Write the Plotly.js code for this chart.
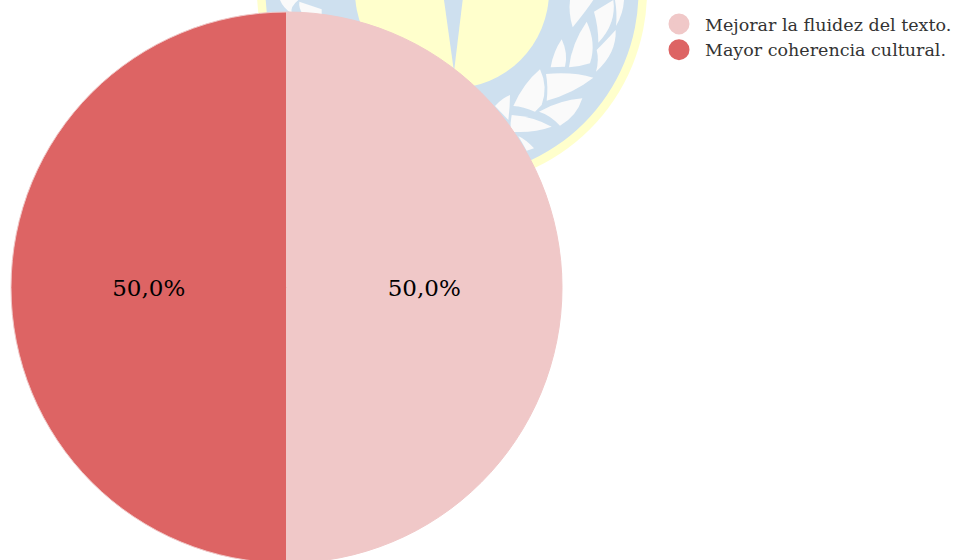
<!DOCTYPE html>
<html><head><meta charset="utf-8">
<script src="https://cdn.plot.ly/plotly-3.0.1.min.js"></script>
<style>html,body{margin:0;padding:0;background:#fff;overflow:hidden}</style>
</head><body><div id="chart" style="width:980px;height:564px"></div>
<script>
const categories = ["Mejorar la fluidez del texto.", "Mayor coherencia cultural."];
const values = [50, 50];
const colors = ["#F0C8C8", "#DD6464"];

const W = 980, H = 564;
const FONT = "'DejaVu Serif', serif";
const fx = x => x / W, fy = y => 1 - y / H;
// logo watermark behind the pie, in page pixels
function circle(cx, cy, r, color) {
  return {type:"circle", xref:"paper", yref:"paper", layer:"below", line:{width:0}, fillcolor:color,
    x0:fx(cx-r), x1:fx(cx+r), y0:fy(cy+r), y1:fy(cy-r)};
}
// leaf outlines given in 3x coordinates of the crop at (240,0)
function logoPath(d, color) {
  const path = d.replace(/(-?[\d.]+),(-?[\d.]+)/g, (m, a, b) => fx(240 + a/3) + "," + fy(b/3));
  return {type:"path", xref:"paper", yref:"paper", layer:"below", line:{width:0}, fillcolor:color, path};
}
const leaves = [
 "M990,0 L1060,0 Q1040,30 998,82 Q985,40 990,0 Z",
 "M1062,35 L1120,0 Q1130,70 1075,128 Q1075,80 1062,35 Z",
 "M1125,0 L1152,0 Q1150,40 1128,78 Q1132,40 1125,0 Z",
 "M1127,90 Q1130,160 1068,215 Q1078,180 1070,150 Q1095,125 1127,90 Z",
 "M1040,65 Q1070,130 1050,190 Q1020,200 987,202 Q995,130 1040,65 Z",
 "M965,118 Q985,160 975,200 L932,202 Q940,155 965,118 Z",
 "M900,208 Q925,260 905,315 L885,335 Q850,320 820,318 Q850,250 900,208 Z",
 "M918,222 Q1000,215 1060,233 Q1000,280 920,302 Q925,260 918,222 Z",
 "M1027,295 Q1010,350 960,377 Q930,345 897,335 Q960,300 1027,295 Z",
 "M815,345 Q880,350 935,380 Q880,400 812,395 Q810,370 815,345 Z",
 "M810,285 Q810,320 805,360 L765,318 Q785,295 810,285 Z",
 "M835,408 Q860,420 882,445 L860,452 Z",
 "M178,5 L245,28 L245,45 L190,45 Q175,25 178,5 Z",
 "M120,0 L175,0 Q150,20 155,40 Q130,25 120,0 Z"
];
const shapes = [
  circle(452, -8.7, 195, "#FFFFCC"),
  circle(452, -8.7, 186.5, "#CEE0EF"),
  circle(452, -8.7, 97, "#FFFFCC"),
  logoPath("M612,0 L668,0 L642,215 Z", "#CEE0EF"),
  ...leaves.map(d => logoPath(d, "#FAFAFA"))
];

const pie = {
  type:"pie", labels:categories, values:values, sort:false, direction:"clockwise", rotation:0,
  marker:{colors:colors, line:{color:"#F0C8C8", width:1}},
  textinfo:"percent", texttemplate:"%{percent:.1%}", textposition:"inside", insidetextorientation:"horizontal",
  textfont:{family:FONT, size:23, color:"#000"},
  domain:{x:[11/W, 562/W], y:[fy(563), fy(12)]},
  showlegend:false, hoverinfo:"label+percent"
};
const legendTraces = categories.map((c,i) => ({
  type:"scatter", mode:"markers", x:[null], y:[null], name:c, legendgroup:"g"+i,
  marker:{symbol:"circle", size:16, color:colors[i], line:{color:colors[i], width:5}}
}));
const layout = {
  width:W, height:H, margin:{l:0,r:0,t:0,b:0}, separators:",.",
  paper_bgcolor:"rgba(0,0,0,0)", plot_bgcolor:"rgba(0,0,0,0)",
  xaxis:{visible:false}, yaxis:{visible:false},
  shapes,
  font:{family:FONT},
  legend:{x:fx(653), y:fy(6), xanchor:"left", yanchor:"top", bgcolor:"rgba(0,0,0,0)", borderwidth:0,
    itemwidth:42, tracegroupgap:11, traceorder:"normal", itemclick:false, itemdoubleclick:false,
    font:{family:FONT, size:17.5, color:"#333"}}
};
Plotly.newPlot("chart", [pie, ...legendTraces], layout, {displayModeBar:false, staticPlot:true});
</script></body></html>
